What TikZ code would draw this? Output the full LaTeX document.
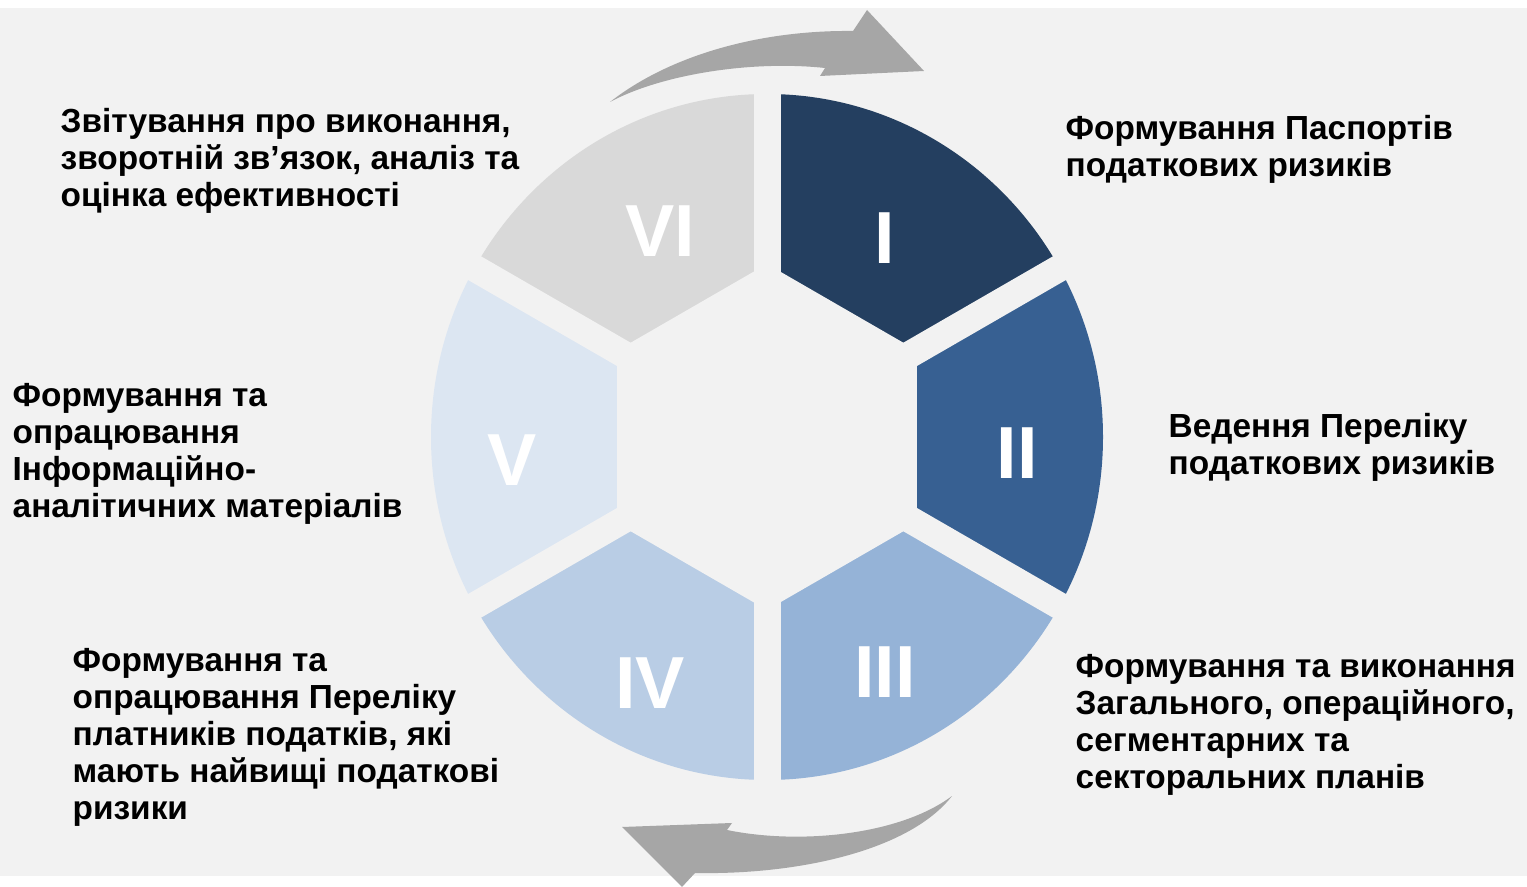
\documentclass[tikz,border=0pt]{standalone}
\usepackage{fontspec}
\setmainfont{Liberation Sans}
\usepackage{xcolor}
\usepackage{tikz}
\usetikzlibrary{positioning,calc}

\definecolor{bgGray}{HTML}{F2F2F2}
\definecolor{arrowGray}{HTML}{A6A6A6}
\definecolor{segOne}{HTML}{243F60}
\definecolor{segTwo}{HTML}{376092}
\definecolor{segThree}{HTML}{95B3D7}
\definecolor{segFour}{HTML}{B9CDE5}
\definecolor{segFive}{HTML}{DCE6F2}
\definecolor{segSix}{HTML}{D9D9D9}

\tikzset{
    stage/.style={font=\bfseries\fontsize{9.5}{10.5}\selectfont, align=left, anchor=north west, inner sep=0pt},
    numeral/.style={font=\bfseries\fontsize{21}{21}\selectfont, text=white, inner sep=0pt}
}

\begin{document}
\begin{tikzpicture}
    \useasboundingbox (0,0) rectangle (15.27,-8.87);
    \fill[bgGray] (0,-0.08) rectangle (15.27,-8.76);

    % Segments of the cycle
    \coordinate (c) at (7.67,-4.37);
    \begin{scope}[shift={(c)}]
        \begin{scope}
            \clip (0,0) ellipse [x radius=3.36, y radius=3.43];
            \foreach \a/\col in {60/segOne, 0/segTwo, -60/segThree, -120/segFour, 180/segFive, 120/segSix}
                \fill[\col] (0,0) -- (\a-30:5) arc[start angle=\a-30, end angle=\a+30, radius=5] -- cycle;
        \end{scope}
        % Inner hexagon
        \fill[bgGray] (30:1.73) -- (90:1.73) -- (150:1.73) -- (210:1.73) -- (270:1.73) -- (330:1.73) -- cycle;
        % Gaps between segments
        \foreach \a in {30,90,150}
            \draw[bgGray, line width=0.27cm] (\a:3.6) -- (\a+180:3.6);
    \end{scope}

    % Curved arrows
    \fill[arrowGray] (6.10,-1.02) .. controls (6.70,-0.55) and (7.60,-0.30) .. (8.53,-0.31)
        -- (8.67,-0.10) -- (9.24,-0.71) -- (8.20,-0.76) -- (8.25,-0.68)
        .. controls (7.50,-0.60) and (6.60,-0.75) .. (6.10,-1.02) -- cycle;
    \fill[arrowGray] (9.52,-7.96) .. controls (9.00,-8.35) and (8.00,-8.45) .. (7.27,-8.30)
        -- (7.32,-8.23) -- (6.22,-8.27) -- (6.82,-8.87) -- (6.95,-8.73)
        .. controls (8.00,-8.75) and (9.10,-8.50) .. (9.52,-7.96) -- cycle;

    % Numerals
    \node[numeral] (n1) at (8.85,-2.38) {I};
    \node[numeral] (n2) at (10.17,-4.53) {II};
    \node[numeral] (n3) at (8.85,-6.72) {III};
    \node[numeral] (n4) at (6.50,-6.83) {IV};
    \node[numeral] (n5) at (5.12,-4.60) {V};
    \node[numeral] (n6) at (6.60,-2.31) {VI};

    % Labels
    \node[stage] (t1) at (10.65,-1.15) {Формування Паспортів\\податкових ризиків};
    \node[stage] (t2) at (11.68,-4.13) {Ведення Переліку\\податкових ризиків};
    \node[stage] (t3) at (10.75,-6.54) {Формування та виконання\\Загального, операційного,\\сегментарних та\\секторальних планів};
    \node[stage] (t4) at (0.72,-6.48) {Формування та\\опрацювання Переліку\\платників податків, які\\мають найвищі податкові\\ризики};
    \node[stage] (t5) at (0.12,-3.83) {Формування та\\опрацювання\\Інформаційно-\\аналітичних матеріалів};
    \node[stage] (t6) at (0.60,-1.08) {Звітування про виконання,\\зворотній зв’язок, аналіз та\\оцінка ефективності};
\end{tikzpicture}
\end{document}
